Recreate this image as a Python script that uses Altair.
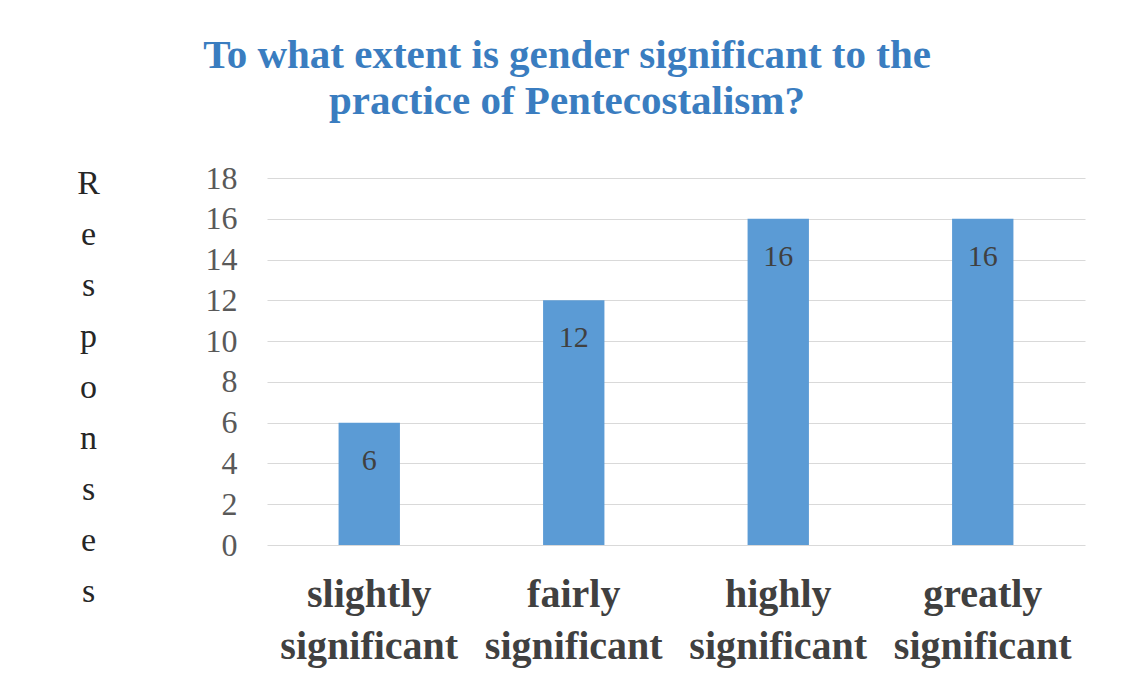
import altair as alt
import pandas as pd

categories = ["slightly significant", "fairly significant", "highly significant", "greatly significant"]
responses = [6, 12, 16, 16]
y_ticks = [0, 2, 4, 6, 8, 10, 12, 14, 16, 18]
title_lines = ["To what extent is gender significant to the", "practice  of Pentecostalism?"]
y_title = "Responses"

df = pd.DataFrame({"category": categories, "responses": responses})

x = alt.X(
    "category:N",
    sort=categories,
    title=None,
    scale=alt.Scale(paddingInner=0.7, paddingOuter=0.35),
    axis=alt.Axis(
        labelAngle=0,
        labelExpr="split(datum.label, ' ')",
        labelFont="Liberation Serif",
        labelFontWeight="bold",
        labelFontSize=40,
        labelLineHeight=52,
        labelColor="#404040",
        labelPadding=29,
        labelBaseline="top",
        domain=False,
        ticks=False,
        grid=False,
    ),
)

y = alt.Y(
    "responses:Q",
    scale=alt.Scale(domain=[0, 18], nice=False),
    axis=alt.Axis(
        values=y_ticks,
        title=list(y_title),
        titleAngle=0,
        titleFont="Liberation Serif",
        titleFontSize=34,
        titleFontWeight="normal",
        titleColor="#262626",
        titleLineHeight=51,
        titleAlign="center",
        titleBaseline="alphabetic",
        titleX=-179,
        titleY=15,
        labelFont="Liberation Serif",
        labelFontSize=32,
        labelColor="#595959",
        labelPadding=30,
        domain=False,
        ticks=False,
        grid=True,
        gridColor="#d9d9d9",
        gridWidth=1.2,
    ),
)

bars = alt.Chart(df).mark_bar(color="#5b9bd5").encode(x=x, y=y)

labels = alt.Chart(df).mark_text(
    font="Liberation Serif",
    fontSize=30,
    color="#404040",
    baseline="middle",
    dy=38,
).encode(
    x=alt.X("category:N", sort=categories),
    y=alt.Y("responses:Q"),
    text="responses:Q",
)

chart = (
    alt.layer(bars, labels)
    .properties(
        width=818,
        height=367,
        background="white",
        autosize=alt.AutoSizeParams(type="none"),
        padding={"left": 259, "top": 170, "right": 29, "bottom": 138},
        title=alt.TitleParams(
            text=title_lines,
            font="Liberation Serif",
            fontSize=41,
            fontWeight="bold",
            color="#3a7dc0",
            lineHeight=46,
            anchor="middle",
            frame="group",
            dx=-109,
            offset=39,
        ),
    )
    .configure_view(strokeWidth=0, stroke="transparent")
)

chart.save("out.html", embed_options={"renderer": "svg", "actions": False})
